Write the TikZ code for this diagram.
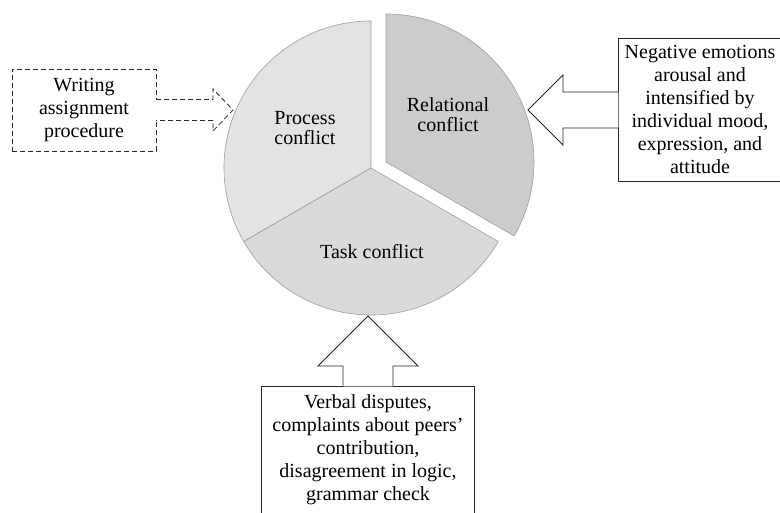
\documentclass[tikz,border=0pt]{standalone}
\usepackage{fontspec}
\setmainfont{Liberation Serif}
\usepackage{tikz}
\usetikzlibrary{calc}
\definecolor{procgray}{rgb}{0.89,0.89,0.89}
\definecolor{taskgray}{rgb}{0.855,0.855,0.855}
\definecolor{relgray}{rgb}{0.80,0.80,0.80}
\definecolor{edgegray}{rgb}{0.62,0.62,0.62}

\begin{document}
\begin{tikzpicture}[x=1pt,y=1pt,
		slice/.style = {draw=edgegray,line width=0.6pt},
		conflicttext/.style = {align=center,inner sep=0pt,font=\fontsize{20}{20}\selectfont},
		boxtext/.style = {align=center,inner sep=0pt,font=\fontsize{20}{23}\selectfont},
		sourcebox/.style = {draw=black!85,line width=0.8pt},
		dashbox/.style = {sourcebox,dash pattern=on 5pt off 3pt}]
		\useasboundingbox (0,0) rectangle (780,512);
		\coordinate (c) at (371,344);
		\coordinate (crel) at (386,350);
		\draw[slice,fill=procgray] (c) -- ++(90:147) arc[start angle=90,end angle=210,radius=147] -- cycle;
		\draw[slice,fill=taskgray] (c) -- ++(210:147) arc[start angle=210,end angle=330,radius=147] -- cycle;
		\draw[slice,fill=relgray] (crel) -- ++(90:148) arc[start angle=90,end angle=-30,radius=148] -- cycle;
		\node [conflicttext] (proc) at (305,384) {Process\\conflict};
		\node [conflicttext] (rel) at (448,397) {Relational\\conflict};
		\node [conflicttext] (task) at (372,260) {Task conflict};

		\node [dashbox,boxtext,minimum width=144,minimum height=82] (wbox) at (84,402) {Writing\\assignment\\procedure};
		\node [sourcebox,minimum width=180,minimum height=143,anchor=west] (nbox) at (618,402) {};
		\node [boxtext] (ntext) at (700,403) {Negative emotions\\arousal and\\intensified by\\individual mood,\\expression, and\\attitude};
		\node [sourcebox,minimum width=213,minimum height=160,anchor=north] (vbox) at (368,126) {};
		\node [boxtext] (vtext) at (368,62) {Verbal disputes,\\complaints about peers'\\contribution,\\disagreement in logic,\\grammar check};

		\coordinate (wtip) at (233,402);
		\coordinate (ntip) at (528,402);
		\coordinate (vtip) at (368,196);
		\draw[dashbox,fill=white] ($(wbox.east)+(-0.4,10.5)$) -| ($(wtip)+(-20,21)$) -- (wtip)
			-- ($(wtip)+(-20,-21)$) |- ($(wbox.east)+(-0.4,-10.5)$);
		\draw[sourcebox,fill=white] ($(nbox.west)+(0.4,18)$) -| ($(ntip)+(35,35)$) -- (ntip)
			-- ($(ntip)+(35,-35)$) |- ($(nbox.west)+(0.4,-18)$);
		\draw[sourcebox,fill=white] ($(vbox.north)+(-25,-0.4)$) |- ($(vtip)+(-50,-50)$) -- (vtip)
			-- ($(vtip)+(50,-50)$) -| ($(vbox.north)+(25,-0.4)$);
\end{tikzpicture}
\end{document}
